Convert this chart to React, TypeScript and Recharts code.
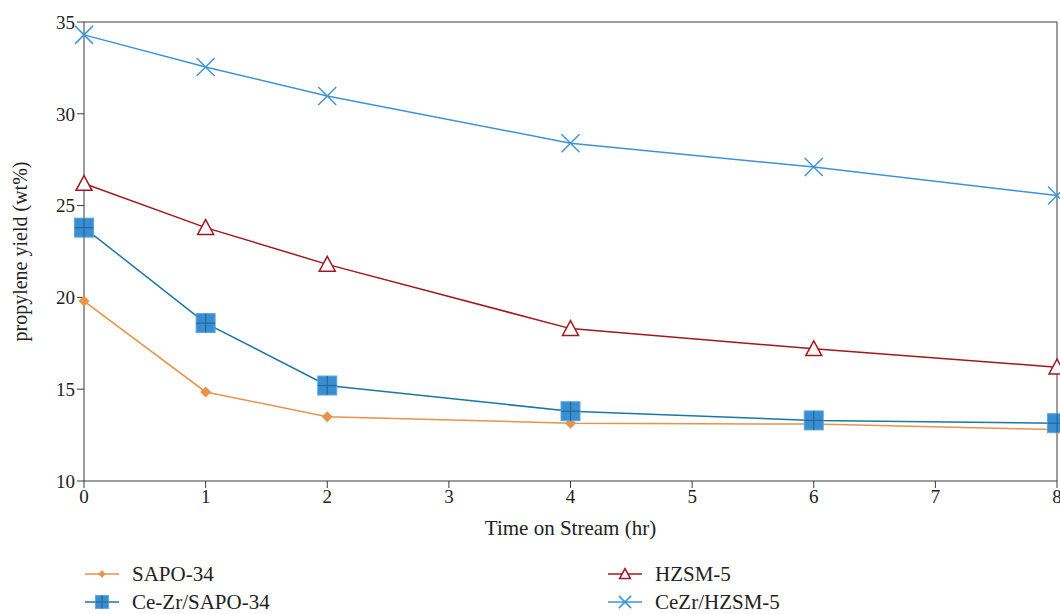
import React from "react";
import {
  LineChart,
  Line,
  XAxis,
  YAxis,
  Legend,
  ReferenceLine,
} from "recharts";

const times = [0, 1, 2, 4, 6, 8];
const sapo34 = [19.8, 14.85, 13.5, 13.15, 13.1, 12.8];
const ceZrSapo34 = [23.8, 18.6, 15.2, 13.8, 13.3, 13.15];
const hzsm5 = [26.2, 23.8, 21.8, 18.3, 17.2, 16.2];
const ceZrHzsm5 = [34.3, 32.55, 30.97, 28.4, 27.1, 25.55];
const xTicks = [0, 1, 2, 3, 4, 5, 6, 7, 8];
const yTicks = [10, 15, 20, 25, 30, 35];

const data = times.map((t, i) => ({
  t,
  sapo: sapo34[i],
  cezrSapo: ceZrSapo34[i],
  hzsm: hzsm5[i],
  cezrHzsm: ceZrHzsm5[i],
}));

const FONT = "'Liberation Serif', 'DejaVu Serif', serif";
const AXIS = "#3a3a3a";
const TEXT = "#222";

const ORANGE = "#E8924A";
const TEAL = "#1B78A3";
const SQUARE = "#3A8ED0";
const RED = "#A3171F";
const SKY = "#3E93D6";

type Kind = "diamond" | "square" | "triangle" | "cross";

function Marker({ kind, cx, cy, s = 1 }: { kind: Kind; cx: number; cy: number; s?: number }) {
  if (kind === "diamond") {
    const r = 5.5 * s;
    return (
      <path
        d={`M${cx},${cy - r}L${cx + r},${cy}L${cx},${cy + r}L${cx - r},${cy}Z`}
        fill={ORANGE}
      />
    );
  }
  if (kind === "square") {
    const h = 9.5 * s;
    return (
      <g>
        <rect x={cx - h} y={cy - h} width={h * 2} height={h * 2} fill={SQUARE} stroke="#5fa6dc" strokeWidth={1} />
        <line x1={cx - h} y1={cy} x2={cx + h} y2={cy} stroke="#1f6a9e" strokeWidth={1.2} />
        <line x1={cx} y1={cy - h} x2={cx} y2={cy + h} stroke="#1f6a9e" strokeWidth={1.2} />
      </g>
    );
  }
  if (kind === "triangle") {
    const a = 8 * s;
    return (
      <path
        d={`M${cx},${cy - a}L${cx + a},${cy + a * 0.85}L${cx - a},${cy + a * 0.85}Z`}
        fill="#fff"
        stroke={RED}
        strokeWidth={1.5}
      />
    );
  }
  const r = 9 * s;
  return (
    <g stroke={SKY} strokeWidth={1.5}>
      <line x1={cx - r} y1={cy - r} x2={cx + r} y2={cy + r} />
      <line x1={cx - r} y1={cy + r} x2={cx + r} y2={cy - r} />
    </g>
  );
}

const series: { key: string; name: string; color: string; kind: Kind }[] = [
  { key: "sapo", name: "SAPO-34", color: ORANGE, kind: "diamond" },
  { key: "cezrSapo", name: "Ce-Zr/SAPO-34", color: TEAL, kind: "square" },
  { key: "hzsm", name: "HZSM-5", color: RED, kind: "triangle" },
  { key: "cezrHzsm", name: "CeZr/HZSM-5", color: SKY, kind: "cross" },
];

function dotFor(kind: Kind) {
  return (props: any) => {
    const { cx, cy, index } = props;
    if (cx == null || cy == null) return <g key={index} />;
    return (
      <g key={`${kind}-${index}`}>
        <Marker kind={kind} cx={cx} cy={cy} />
      </g>
    );
  };
}

function LegendBox() {
  const cols = [
    { left: 67, items: [series[0], series[1]] },
    { left: 590, items: [series[2], series[3]] },
  ];
  return (
    <div style={{ position: "relative", height: 63, fontFamily: FONT }}>
      {cols.map((col, ci) =>
        col.items.map((s, ri) => (
          <div
            key={`${ci}-${ri}`}
            style={{
              position: "absolute",
              left: col.left,
              top: 11 + ri * 28,
              display: "flex",
              alignItems: "center",
              height: 24,
              fontSize: 21,
              color: TEXT,
            }}
          >
            <svg width={50} height={24} style={{ display: "block" }}>
              <line x1={8} y1={12} x2={42} y2={12} stroke={s.color} strokeWidth={1.5} />
              <Marker kind={s.kind} cx={25} cy={12} s={0.68} />
            </svg>
            <span style={{ marginLeft: 5 }}>{s.name}</span>
          </div>
        ))
      )}
    </div>
  );
}

export default function App() {
  return (
    <div style={{ position: "absolute", left: 0, top: 0, background: "#fff" }}>
      <LineChart
        width={1060}
        height={614}
        data={data}
        margin={{ top: 22, right: 3, bottom: 0, left: 10 }}
      >
        <XAxis
          dataKey="t"
          type="number"
          domain={[0, 8]}
          ticks={xTicks}
          interval={0}
          stroke={AXIS}
          tickLine={{ stroke: AXIS }}
          tickSize={7}
          height={70}
          tick={{ fill: TEXT, fontSize: 19, fontFamily: FONT }}
          label={{
            value: "Time on Stream (hr)",
            position: "insideBottom",
            offset: 16,
            fill: TEXT,
            fontSize: 21,
            fontFamily: FONT,
          }}
        />
        <YAxis
          type="number"
          domain={[10, 35]}
          ticks={yTicks}
          interval={0}
          stroke={AXIS}
          tickSize={7}
          width={74}
          tick={{ fill: TEXT, fontSize: 19, fontFamily: FONT }}
          label={{
            value: "propylene yield (wt%)",
            angle: -90,
            position: "insideLeft",
            offset: 10,
            style: { textAnchor: "middle" },
            fill: TEXT,
            fontSize: 20,
            fontFamily: FONT,
          }}
        />
        <ReferenceLine y={35} stroke={AXIS} strokeWidth={1} />
        <ReferenceLine x={8} stroke={AXIS} strokeWidth={1} />
        {series.map((s) => (
          <Line
            key={s.key}
            dataKey={s.key}
            name={s.name}
            type="linear"
            stroke={s.color}
            strokeWidth={1.5}
            dot={dotFor(s.kind)}
            activeDot={false}
            isAnimationActive={false}
          />
        ))}
        <Legend
          verticalAlign="bottom"
          align="left"
          height={63}
          content={() => <LegendBox />}
        />
      </LineChart>
    </div>
  );
}
